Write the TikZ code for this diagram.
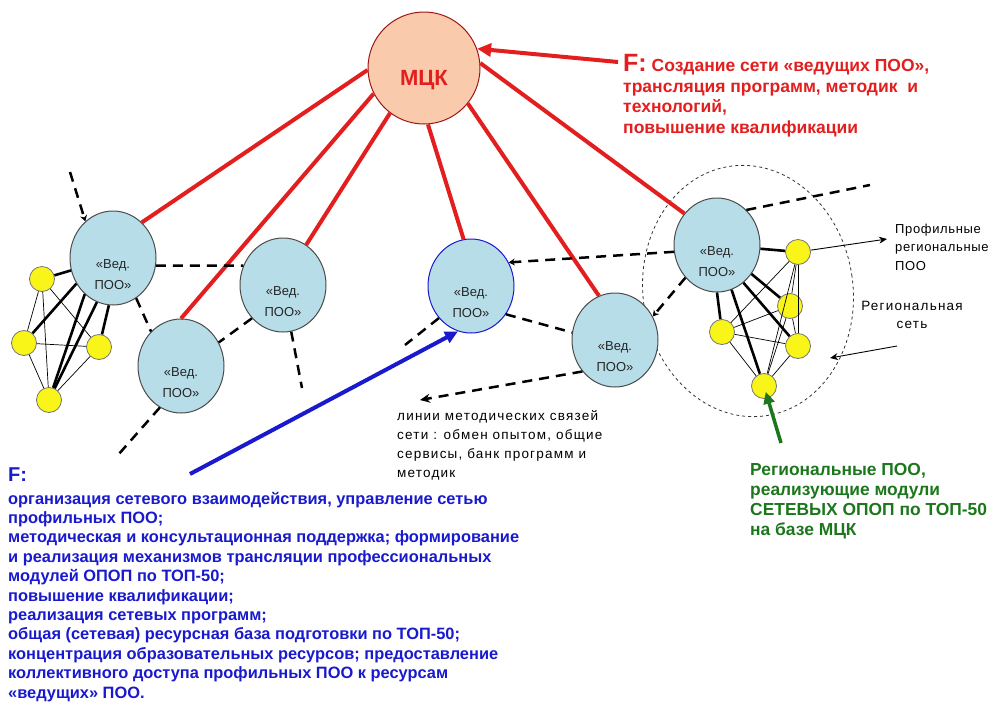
\documentclass[tikz,border=0pt]{standalone}
\usepackage{fontspec}
\setmainfont{Liberation Sans}
\usetikzlibrary{shapes.geometric,arrows.meta}
\definecolor{mred}{RGB}{226,30,30}
\definecolor{mblue}{RGB}{25,25,205}
\definecolor{mgreen}{RGB}{28,118,28}
\definecolor{vedfill}{RGB}{183,221,232}
\definecolor{mckfill}{RGB}{250,202,172}
\definecolor{yel}{RGB}{250,245,25}
\begin{document}
\begin{tikzpicture}[x=1pt,y=-1pt,
  ved/.style={ellipse, draw=black!70, line width=1pt, fill=vedfill,
    minimum width=86pt, minimum height=94pt, inner sep=0pt,
    label={[font=\fontsize{13}{21}\selectfont, align=center, yshift=-17pt, text=black!85]center:«Вед.\\ПОО»}},
  yelnode/.style={circle, draw=black!55, fill=yel, minimum size=25pt, inner sep=0pt, line width=0.8pt},
  redl/.style={mred, line width=4pt},
  dsh/.style={black, line width=2.5pt, dash pattern=on 10pt off 7pt},
  thk/.style={black, line width=2.6pt},
  thn/.style={black, line width=0.7pt},
  smalltip/.style={-{Stealth[length=6pt,width=7pt]}},
  smalltext/.style={font=\addfontfeatures{LetterSpace=9}\fontsize{13.5}{19}\selectfont, inner sep=0pt}
]
\useasboundingbox (0,0) rectangle (998,702);

% regional network ellipse
\node[ellipse, draw=black!80, dashed, line width=0.8pt, minimum width=210pt, minimum height=252pt, rotate=8] (regnet) at (748,291) {};

% main nodes
\node[ellipse, draw=mred!70!black, fill=mckfill, line width=1pt, minimum width=112pt, minimum height=112pt, inner sep=0pt,
  label={[font=\bfseries\fontsize{22}{22}\selectfont, text=mred, yshift=-12pt]center:МЦК}] (mck) at (424,68) {};
\node[ved] (l1) at (113,258) {};
\node[ved] (l2) at (283,285) {};
\node[ved] (l3) at (181,366) {};
\node[ved, draw=mblue] (m) at (471,286) {};
\node[ved] (r2) at (615,340) {};
\node[ved] (r1) at (717,245) {};

% left cluster
\node[yelnode] (y1) at (42,279) {};
\node[yelnode] (y2) at (24,343) {};
\node[yelnode] (y3) at (99,347) {};
\node[yelnode] (y4) at (49,400) {};
% right cluster
\node[yelnode] (ya) at (798,252) {};
\node[yelnode] (yb) at (790,306) {};
\node[yelnode] (yc) at (722,332) {};
\node[yelnode] (yd) at (798,346) {};
\node[yelnode] (ye) at (764,386) {};

% thin links
\draw[thn] (y1) -- (y2);
\draw[thn] (y1) -- (y3);
\draw[thn] (y1) -- (y4);
\draw[thn] (y2) -- (y3);
\draw[thn] (y2) -- (y4);
\draw[thn] (y3) -- (y4);
\draw[thn] (ya) -- (yb);
\draw[thn] (ya) -- (yc);
\draw[thn] (ya) -- (yd);
\draw[thn] (ya) -- (ye);
\draw[thn] (yb) -- (yc);
\draw[thn] (yb) -- (yd);
\draw[thn] (yb) -- (ye);
\draw[thn] (yc) -- (yd);
\draw[thn] (yc) -- (ye);
\draw[thn] (yd) -- (ye);
% thick links
\draw[thk] (l1) -- (y1);
\draw[thk] (l1.215) -- (y2);
\draw[thk] (l1.232) -- (y4);
\draw[thk] (l1.250) -- (y4);
\draw[thk] (l1.265) -- (y3);
\draw[thk] (r1) -- (ya);
\draw[thk] (r1.-40) -- (yb);
\draw[thk] (r1.-55) -- (yd);
\draw[thk] (r1.-72) -- (ye);
\draw[thk] (r1.-90) -- (yc);

% red links from MCK
\draw[redl] (mck.182) -- (l1.51);
\draw[redl] (mck.207) -- (l3.90);
\draw[redl] (mck.233) -- (l2.60);
\draw[redl] (mck.274) -- (m.99);
\draw[redl] (mck.321) -- (r2.110);
\draw[redl] (mck.5) -- (r1.136);

% dashed methodical links
\coordinate (d1) at (70,172);
\coordinate (d2) at (870,185);
\coordinate (d3) at (302,388);
\coordinate (d4) at (118,455);
\coordinate (d5) at (405,345);
\coordinate (d6) at (420,400);
\draw[dsh, smalltip] (d1) -- (l1.127);
\draw[dsh] (l1.-10) -- (l2.154);
\draw[dsh] (l1.-60) -- (l3.131);
\draw[dsh] (l2.227) -- (l3.32);
\draw[dsh] (l2.-80) -- (d3);
\draw[dsh] (l3.243) -- (d4);
\draw[dsh, smalltip] (r1.189) -- (m.32);
\draw[dsh] (m.-39) -- (r2.170);
\draw[dsh] (m.225) -- (d5);
\draw[dsh, -{Stealth[length=10pt,width=9pt]}] (r2.224) -- (d6);
\draw[dsh, smalltip] (r1.226) -- (r2.32);
\draw[dsh] (r1.50) -- (d2);

% F arrows
\coordinate (fr) at (618,62);
\draw[redl, -{Triangle[length=14pt,width=13pt]}] (fr) -- (mck.20);
\coordinate (fb) at (190,474);
\draw[mblue, line width=4pt, -{Triangle[length=13pt,width=12pt]}] (fb) -- (m.254);
\coordinate (fg) at (781,443);
\draw[mgreen, line width=3.5pt, shorten >=6pt, -{Triangle[length=12pt,width=11pt]}] (fg) -- (ye.center);

% thin arrows to labels
\coordinate (p1) at (887,239);
\draw[black, line width=0.9pt, -{Stealth[length=8pt,width=7pt]}] (ya) -- (p1);
\coordinate (q0) at (897,346);
\coordinate (q1) at (830,358);
\draw[black, line width=0.9pt, -{Stealth[length=8pt,width=7pt]}] (q0) -- (q1);

% texts (base anchor = baseline of the last line)
\node[anchor=base west, align=left, text=mred, inner sep=0pt,
  font=\bfseries\fontsize{17.5}{20.5}\selectfont] (tred) at (623,133)
  {{\fontsize{25}{25}\selectfont F:} Создание сети «ведущих ПОО»,\\трансляция программ, методик\ \ и\\технологий,\\повышение квалификации};
\node[anchor=base west, align=left, text=mblue, inner sep=0pt,
  font=\bfseries\fontsize{16.4}{19.4}\selectfont] (tblue) at (8,698)
  {{\fontsize{20}{20}\selectfont F:}\\[2.8pt]
  организация сетевого взаимодействия, управление сетью\\
  профильных ПОО;\\
  методическая и консультационная поддержка; формирование\\
  и реализация механизмов трансляции профессиональных\\
  модулей ОПОП по ТОП-50;\\
  повышение квалификации;\\
  реализация сетевых программ;\\
  общая (сетевая) ресурсная база подготовки по ТОП-50;\\
  концентрация образовательных ресурсов; предоставление\\
  коллективного доступа профильных ПОО к ресурсам\\
  «ведущих» ПОО.};
\node[anchor=base west, align=left, text=mgreen, inner sep=0pt,
  font=\bfseries\fontsize{17.4}{20}\selectfont] (tgreen) at (750,535)
  {Региональные ПОО,\\реализующие модули\\СЕТЕВЫХ ОПОП по ТОП-50\\на базе МЦК};
\node[smalltext, anchor=base west, align=left] (tlines) at (397,477)
  {линии методических связей\\сети : обмен опытом, общие\\сервисы, банк программ и\\методик};
\node[smalltext, anchor=base west, align=left, font=\addfontfeatures{LetterSpace=5}\fontsize{13}{18.5}\selectfont] (tprof) at (895,270)
  {Профильные\\региональные\\ПОО};
\node[smalltext, anchor=base, align=center, font=\addfontfeatures{LetterSpace=9}\fontsize{13.5}{18}\selectfont] (treg) at (912,328)
  {Региональная\\сеть};
\end{tikzpicture}
\end{document}
